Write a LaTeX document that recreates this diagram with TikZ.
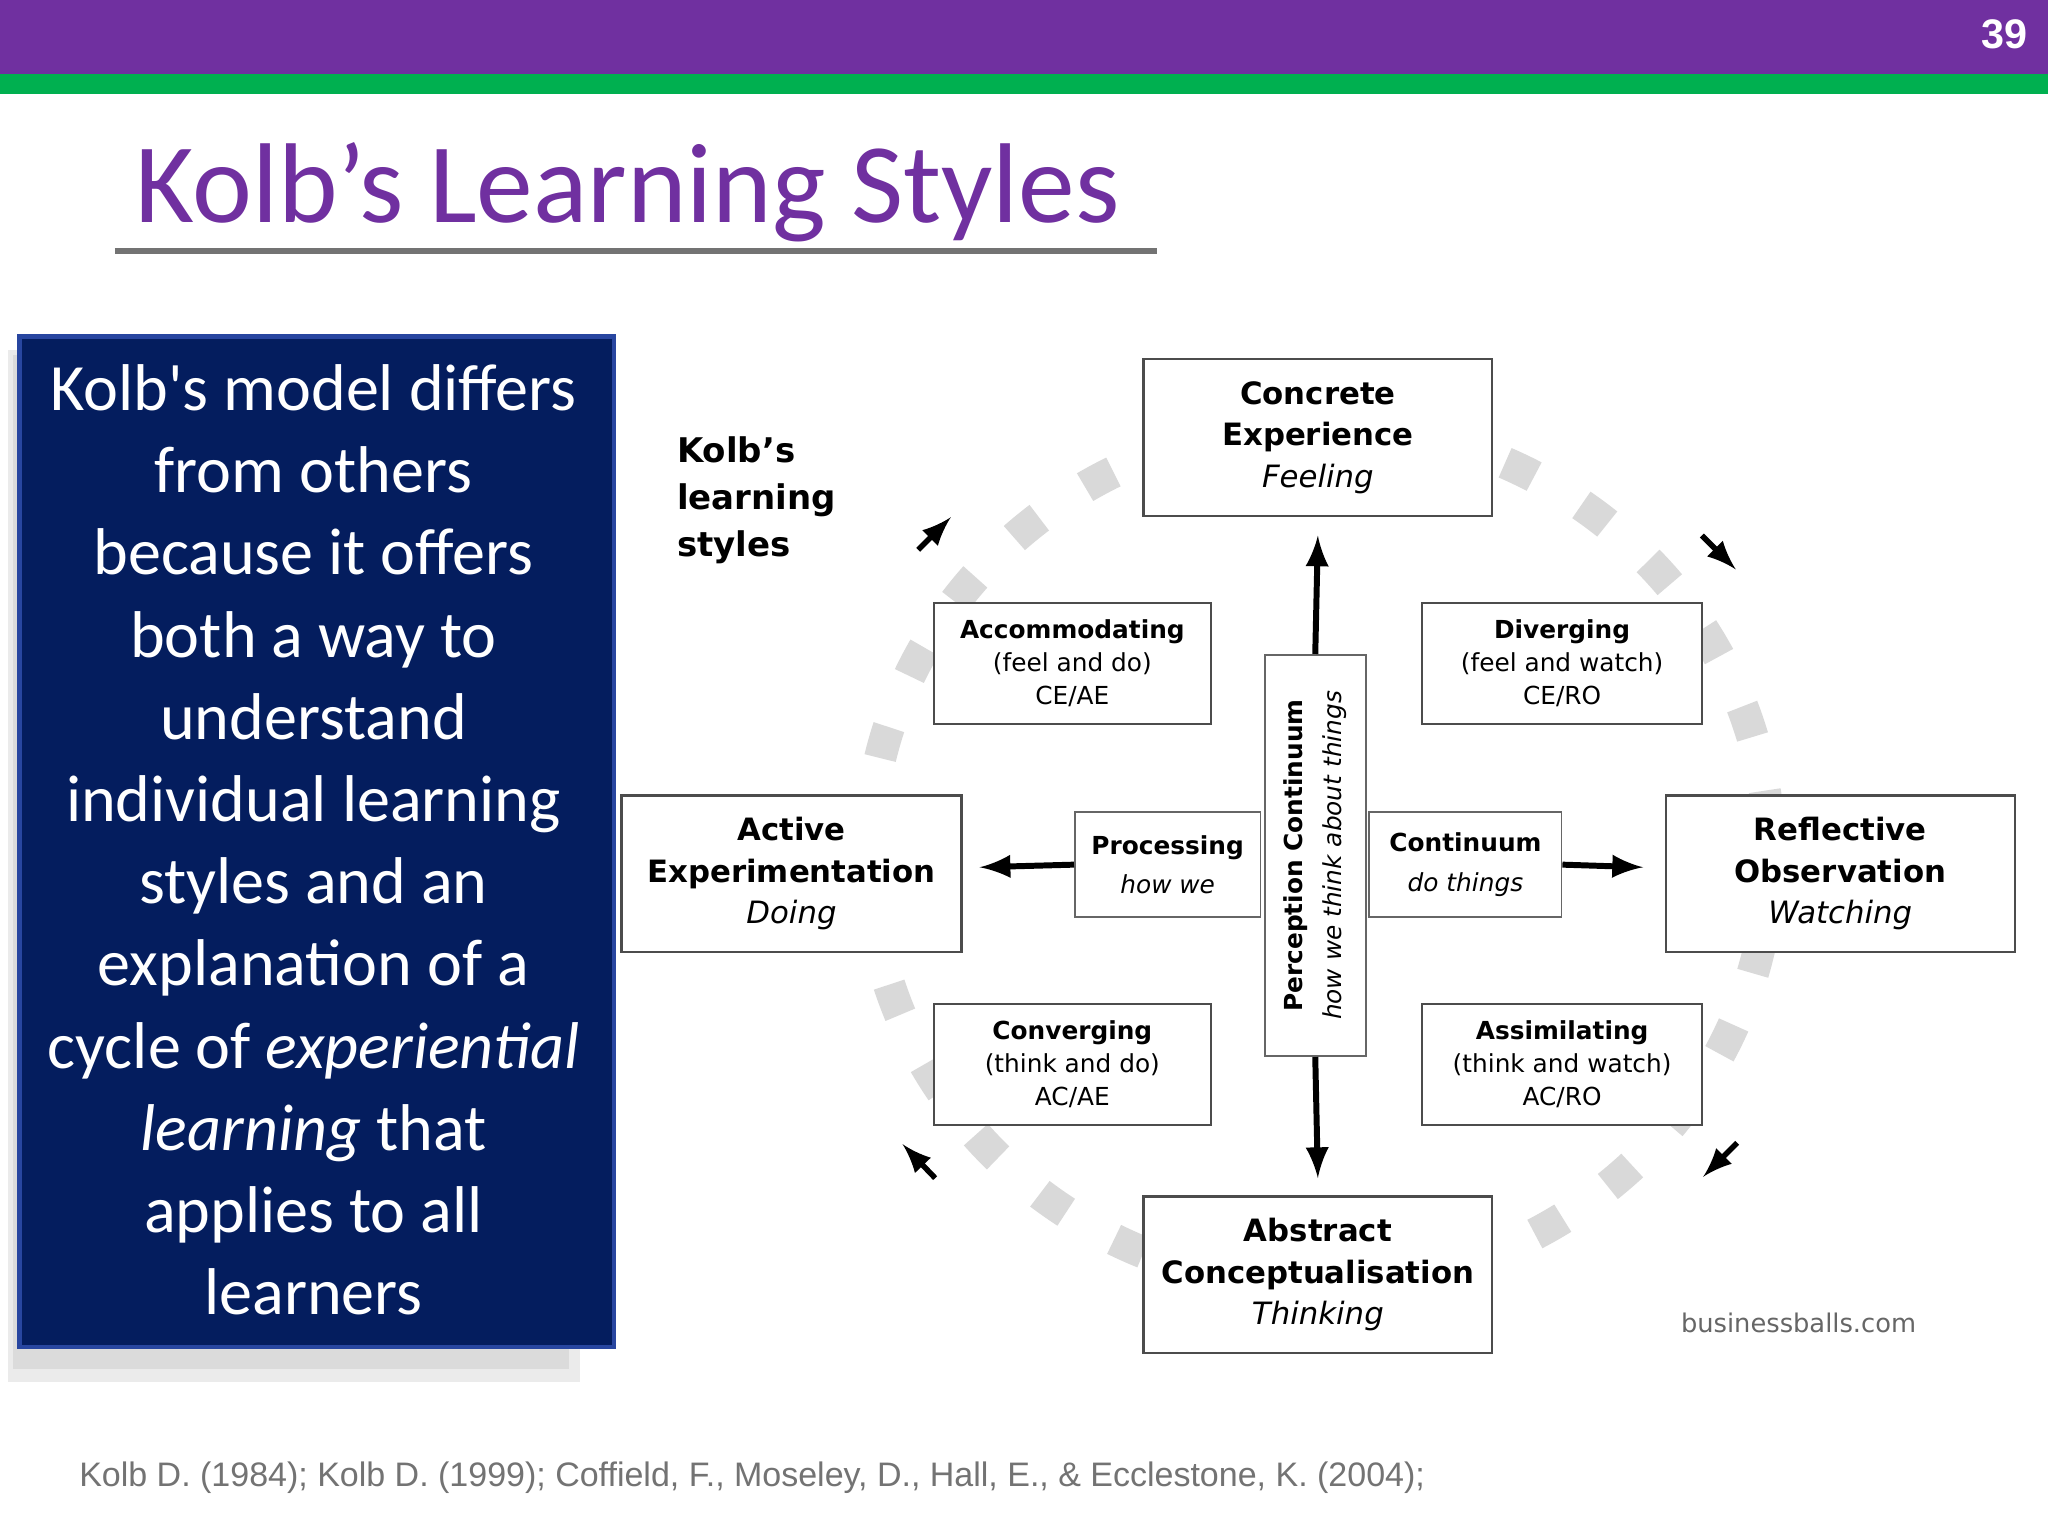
\documentclass[tikz,border=0pt]{standalone}
\usepackage{fontspec}
\setmainfont{DejaVu Sans}
\newfontfamily\calib{Carlito}
\newfontfamily\arialf{Liberation Sans}
\begin{document}
\begin{tikzpicture}[x=0.01cm,y=-0.01cm,
  bigbox/.style={draw=black!70,line width=0.5pt,fill=white,minimum width=2.67cm,minimum height=1.2cm,inner xsep=1pt,align=center,font=\fontsize{6.7}{9}\selectfont},
  stylebox/.style={draw=black!70,line width=0.5pt,fill=white,minimum width=2.12cm,minimum height=0.93cm,align=center,font=\fontsize{5.4}{7.2}\selectfont},
  smallbox/.style={draw=black!60,line width=0.4pt,fill=white,minimum height=0.8cm,align=center,font=\fontsize{5.4}{8.5}\selectfont},
  arr/.style={-latex,line width=1.3pt},
  sarr/.style={-latex,line width=1.2pt}]
\useasboundingbox (0,0) rectangle (1568,1176);
\fill[white] (0,0) rectangle (1568,1176);
% header
\fill[fill={rgb,255:red,112;green,48;blue,160}] (0,0) rectangle (1568,57);
\fill[fill={rgb,255:red,0;green,176;blue,80}] (0,57) rectangle (1568,72);
\node[text=white,font=\arialf\bfseries\fontsize{9}{10}\selectfont] (pg) at (1535,26) {39};
% title
\node[anchor=base west,inner sep=0,text={rgb,255:red,112;green,48;blue,160},font=\calib\fontsize{24.7}{30}\selectfont] (title) at (103,170) {Kolb’s Learning Styles};
\draw[line width=1.4pt,black!55] (88,192) -- (886,192);
% left box with shadow
\fill[black!8] (6,268) rectangle (444,1058);
\fill[black!14] (10,272) rectangle (436,1048);
\node[draw={rgb,255:red,40;green,70;blue,160},line width=1pt,fill={rgb,255:red,4;green,29;blue,94},minimum width=4.55cm,minimum height=7.73cm,anchor=north west,inner sep=0] (lb) at (13,256) {};
\node[text=white,align=center,font=\calib\fontsize{14.4}{17.9}\selectfont] (lbt) at (240,643) {Kolb's model differs\\from others\\because it offers\\both a way to\\understand\\individual learning\\styles and an\\explanation of a\\cycle of \textit{experiential}\\\textit{learning} that\\applies to all\\learners};
% dashed circle
\draw[black!15,line width=7pt,dash pattern=on 7pt off 12pt] (1010,655) ellipse (345 and 330);
% boxes
\node[bigbox] (ce) at (1009,335) {\textbf{Concrete}\\\textbf{Experience}\\\textit{Feeling}};
\node[bigbox,minimum width=2.6cm] (ae) at (606,669) {\textbf{Active}\\\textbf{Experimentation}\\\textit{Doing}};
\node[bigbox] (ro) at (1409,669) {\textbf{Reflective}\\\textbf{Observation}\\\textit{Watching}};
\node[bigbox] (ac) at (1009,976) {\textbf{Abstract}\\\textbf{Conceptualisation}\\\textit{Thinking}};
\node[stylebox] (acc) at (821,508) {\textbf{Accommodating}\\(feel and do)\\CE/AE};
\node[stylebox,minimum width=2.14cm] (div) at (1196,508) {\textbf{Diverging}\\(feel and watch)\\CE/RO};
\node[stylebox] (con) at (821,815) {\textbf{Converging}\\(think and do)\\AC/AE};
\node[stylebox,minimum width=2.14cm] (ass) at (1196,815) {\textbf{Assimilating}\\(think and watch)\\AC/RO};
\node[smallbox,minimum width=1.42cm] (proc) at (894,662) {\textbf{Processing}\\\textit{how we}};
\node[smallbox,minimum width=1.47cm] (cont) at (1122,662) {\textbf{Continuum}\\\textit{do things}};
\node[draw=black!60,line width=0.4pt,fill=white,minimum width=3.07cm,minimum height=0.77cm,rotate=90,align=center,font=\fontsize{5.4}{8.5}\selectfont] (perc) at (1007,655) {\textbf{Perception Continuum}\\\textit{how we think about things}};
% arrows
\draw[arr] (perc.east) -- (1009,410) coordinate (upend);
\draw[arr] (perc.west) -- (1009,902) coordinate (dnend);
\draw[arr] (proc.west) -- (750,664) coordinate (lfend);
\draw[arr] (cont.east) -- (1258,664) coordinate (rtend);
\coordinate (a1s) at (703,421); \coordinate (a1e) at (728,396);
\coordinate (a2s) at (1303,410); \coordinate (a2e) at (1329,436);
\coordinate (a3s) at (1330,875); \coordinate (a3e) at (1304,901);
\coordinate (a4s) at (716,902); \coordinate (a4e) at (691,876);
\draw[sarr] (a1s) -- (a1e);
\draw[sarr] (a2s) -- (a2e);
\draw[sarr] (a3s) -- (a3e);
\draw[sarr] (a4s) -- (a4e);
% labels
\node[anchor=north west,align=left,font=\bfseries\fontsize{7.4}{10.2}\selectfont] (kls) at (506,322) {Kolb{\char39}s\\learning\\styles};
\node[text=black!60,font=\fontsize{5.6}{7}\selectfont] (bb) at (1377,1013) {businessballs.com};
\node[anchor=base west,inner sep=0,text=black!55,font=\arialf\fontsize{7.4}{9}\selectfont] (foot) at (60,1138) {Kolb D. (1984); Kolb D. (1999); Coffield, F., Moseley, D., Hall, E., \& Ecclestone, K. (2004);};
\end{tikzpicture}
\end{document}
